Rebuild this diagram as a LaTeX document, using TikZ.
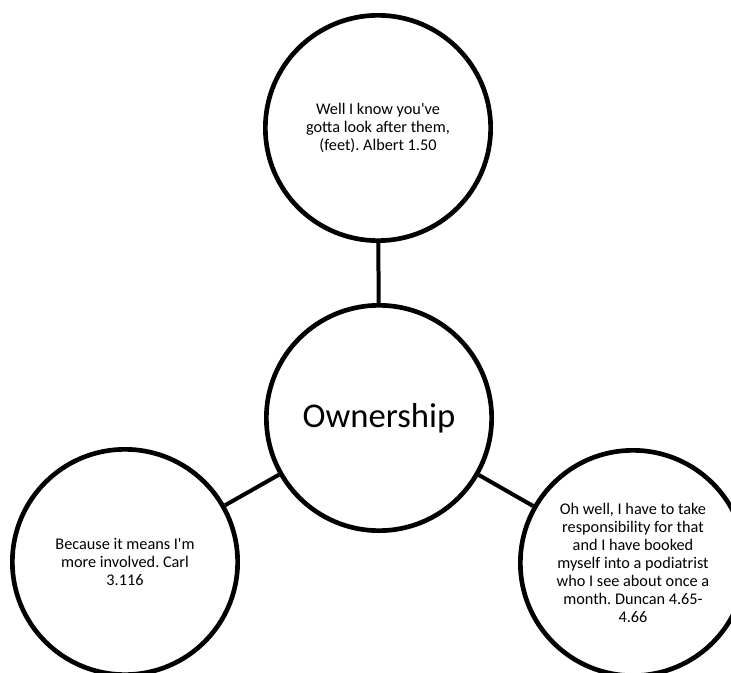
\documentclass[tikz,border=0pt]{standalone}
\usepackage{fontspec}
\setmainfont{Carlito}
\usetikzlibrary{positioning}
\frenchspacing
\tikzset{%
  c/.style = {circle,draw,line width=3.5pt,minimum size=169pt,
        inner sep=0pt,align=center,font=\fontsize{12.2}{13.6}\selectfont},
  m/.style = {c,font=\fontsize{26}{30}\selectfont},
  link/.style = {line width=3pt}
}

\begin{document}
\begin{tikzpicture}[x=0.75pt,y=-0.75pt]
\useasboundingbox (0,0) rectangle (731,673);
\clip (0,0) rectangle (731,673);
\node[m] (own) at (379,418) {Ownership};
\node[c] (albert) at (378,128) {Well I know you\textquotesingle ve\\gotta look after them,\\(feet). Albert 1.50};
\node[c] (carl) at (125,562) {Because it means I\textquotesingle m\\more involved. Carl\\3.116};
\node[c] (duncan) at (633,563) {Oh well, I have to take\\responsibility for that\\and I have booked\\myself into a podiatrist\\who I see about once a\\month. Duncan 4.65-\\4.66};
\draw[link] (own) -- (albert);
\draw[link] (own) -- (carl);
\draw[link] (own) -- (duncan);
\end{tikzpicture}
\end{document}
